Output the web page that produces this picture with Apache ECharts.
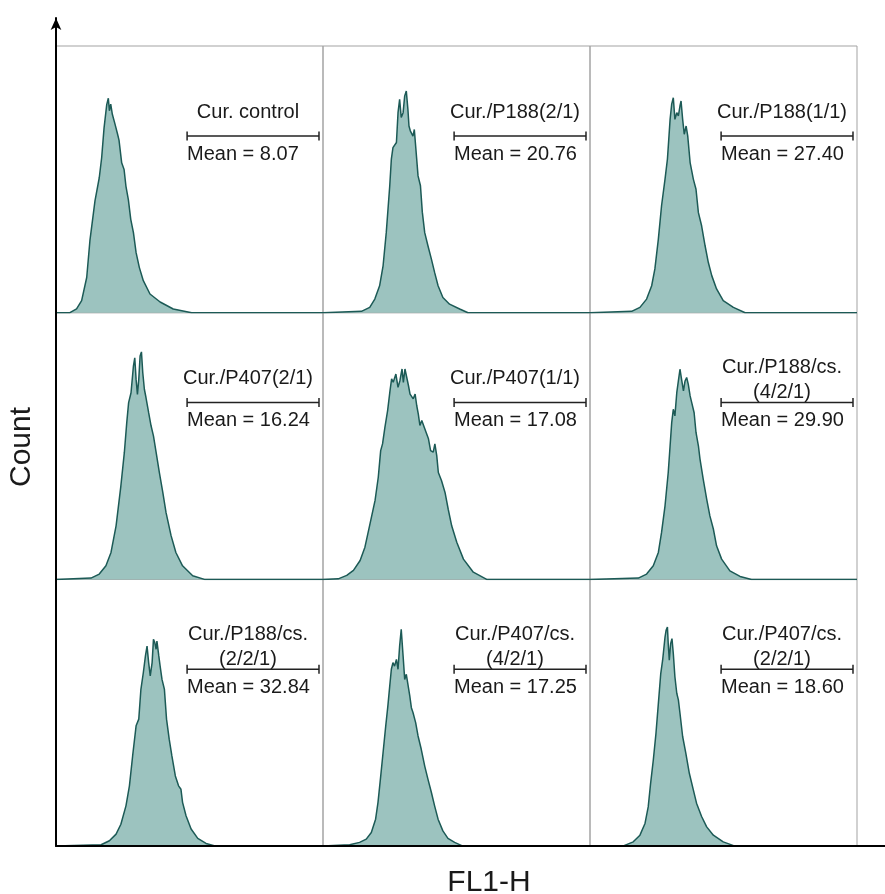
<!DOCTYPE html>
<html>
<head>
<meta charset="utf-8">
<script src="https://cdn.jsdelivr.net/npm/echarts@6/dist/echarts.min.js"></script>
<style>
  html, body { margin: 0; padding: 0; background: #fff; }
  #main { width: 885px; height: 894px; }
</style>
</head>
<body>
<div id="main"></div>
<script>
// histogram traces, [FL1-H position, count] in panel units (0-100)
const curControl = [[0,0],[5.2,0],[7.7,1.4],[9.6,4.5],[11.5,13.2],[12.7,27],[14.6,41.9],[16.2,50.6],[17.1,58.1],[18.0,69.3],[19.0,78.0],[19.6,80.4],[20.0,75.7],[20.5,78.2],[21.1,74.4],[21.5,73.8],[22.1,70.7],[23.0,67.2],[23.6,64.7],[24.6,56.2],[25.5,53.7],[26.2,47.4],[27.1,42.4],[28.0,35.0],[29.0,30.0],[30.0,22.5],[31.2,17.0],[32.7,12.0],[35.2,7.0],[39.0,4.0],[43.9,1.4],[50.8,0],[100,0]]
const p188_21 = [[0,0],[14.4,0.5],[17.5,2.0],[19.4,5.1],[21.2,10.1],[22.5,17.6],[23.7,30.1],[25.0,47.6],[25.6,57.6],[26.2,61.9],[26.8,61.3],[27.5,63.8],[28.1,75.0],[28.7,80.0],[29.3,73.2],[30.0,75.0],[30.6,81.3],[31.2,83.1],[31.8,76.3],[32.2,70.0],[32.7,68.2],[33.2,68.7],[33.7,66.2],[34.2,68.7],[34.7,62.5],[35.6,51.3],[36.5,47.6],[37.2,37.7],[38.1,30.0],[39.3,25.1],[40.6,20.1],[41.8,15.1],[43.1,10.1],[44.9,5.7],[47.4,3.2],[51.2,1.4],[54.3,0],[100,0]]
const p188_11 = [[0,0],[15.6,0.5],[18.7,2.0],[21.2,5.1],[23.1,10.1],[24.3,16.4],[25.6,27.6],[26.8,40.1],[28.1,50.1],[29.0,57.6],[29.5,65.0],[30.0,72.5],[30.6,78.2],[31.2,80.6],[31.8,72.5],[32.5,75.0],[33.1,73.8],[33.7,77.5],[34.1,79.4],[34.7,72.5],[35.3,66.9],[36.0,70.0],[36.6,66.3],[37.5,56.3],[38.7,50.1],[39.7,46.3],[40.6,37.5],[41.8,32.6],[43.1,25.1],[44.3,18.9],[45.6,13.9],[47.4,8.9],[49.9,4.5],[53.7,2.0],[58.1,0],[100,0]]
const p407_21 = [[0,0],[13.1,0.5],[16.2,2.0],[18.7,5.1],[20.6,10.1],[22.5,20.1],[24.3,35.1],[25.6,47.6],[26.5,58.8],[27.2,66.3],[28.1,70.0],[29.0,80.0],[29.5,83.1],[30.0,75.0],[30.5,69.4],[31.0,75.0],[31.5,83.8],[32.0,85.3],[32.5,77.5],[33.1,71.3],[33.7,68.2],[34.7,62.5],[35.6,57.6],[36.5,53.8],[37.5,47.6],[38.7,40.1],[40.0,32.6],[41.2,25.1],[43.1,16.4],[44.9,10.1],[47.4,5.1],[51.2,1.4],[55.6,0],[100,0]]
const p407_11 = [[0,0],[5.7,0.2],[8.9,1.5],[11.4,3.4],[13.9,7.1],[15.7,12.1],[17.6,20.8],[19.5,29.6],[20.7,38.3],[21.6,48.3],[22.3,50.8],[23.2,57.1],[24.2,63.3],[25.1,70.8],[25.7,75.2],[26.3,73.9],[27.3,77.0],[28.1,72.0],[28.8,74.5],[29.6,78.9],[30.1,73.9],[30.7,78.9],[31.3,78.9],[32.0,72.7],[32.6,69.5],[33.2,70.2],[33.8,67.7],[34.5,69.5],[35.1,65.2],[35.7,62.0],[36.3,57.7],[37.0,59.6],[37.6,59.0],[38.6,55.2],[39.5,52.7],[40.3,48.3],[41.3,47.7],[41.9,50.8],[42.6,46.4],[43.2,40.1],[44.4,37.0],[45.7,32.6],[46.9,26.3],[48.2,20.1],[50.1,13.9],[52.6,7.6],[56.3,2.7],[61.3,0],[100,0]]
const p188cs_421 = [[0,0],[18.1,0.5],[21.2,2.0],[23.7,5.1],[25.6,10.1],[26.8,17.6],[28.1,27.6],[29.3,40.1],[30.0,50.1],[30.6,58.8],[31.2,63.8],[31.8,61.3],[32.5,70.0],[33.1,74.4],[33.7,78.8],[34.3,75.0],[35.0,70.7],[35.6,74.4],[36.2,75.7],[36.8,73.2],[37.5,68.8],[38.1,66.3],[39.0,62.5],[39.7,55.1],[40.6,50.1],[41.2,45.1],[42.4,37.6],[43.7,30.1],[44.9,23.8],[46.2,18.9],[47.4,12.6],[49.3,7.6],[52.4,3.2],[56.2,1.1],[60.5,0],[100,0]]
const p188cs_221 = [[0,0],[16.9,0.5],[20.0,2.0],[22.5,4.5],[24.3,8.2],[26.2,15.1],[27.5,22.6],[28.7,33.8],[30.0,45.1],[31.0,47.6],[31.8,58.8],[32.7,65.0],[33.5,71.3],[34.1,75.0],[34.7,68.8],[35.3,63.8],[36.0,68.8],[36.5,77.5],[37.0,76.3],[37.5,73.8],[37.8,76.9],[38.5,71.3],[39.0,67.5],[39.7,62.5],[40.6,58.8],[41.4,47.6],[42.4,40.1],[43.4,33.8],[44.7,26.3],[45.9,22.6],[46.8,21.3],[47.4,16.4],[48.7,11.4],[50.6,6.4],[53.1,2.9],[56.2,1.0],[59.9,0],[100,0]]
const p407cs_421 = [[0,0],[10.0,0.5],[13.7,1.4],[16.2,2.6],[18.1,5.1],[19.7,10.1],[20.6,16.4],[21.5,25.1],[22.5,35.1],[23.5,45.1],[24.3,52.6],[25.0,60.1],[25.6,66.3],[26.2,68.8],[26.8,67.5],[27.5,70.0],[28.1,66.3],[28.7,75.0],[29.3,81.3],[30.0,71.3],[30.6,62.5],[31.2,64.4],[31.8,63.8],[32.5,56.3],[33.1,51.9],[33.7,50.1],[34.7,46.3],[35.6,41.3],[36.8,36.3],[38.1,30.0],[39.3,25.1],[40.6,20.1],[41.8,15.1],[43.1,10.1],[44.9,5.7],[46.8,2.9],[49.3,1.4],[52.4,0],[100,0]]
const p407cs_221 = [[0,0],[12.5,0.1],[16.2,1.6],[18.7,4.1],[20.6,8.5],[21.8,14.7],[22.7,23.5],[23.7,32.2],[24.7,42.2],[25.6,53.4],[26.5,64.7],[27.2,69.7],[28.1,78.4],[28.5,80.9],[29.0,82.1],[29.3,75.9],[29.7,69.7],[30.2,75.9],[30.7,77.8],[31.2,72.2],[31.8,63.5],[32.5,57.3],[33.1,54.8],[33.7,49.8],[34.7,41.1],[35.9,34.8],[37.2,27.3],[38.7,21.1],[39.9,16.1],[41.8,11.1],[43.7,7.2],[46.2,4.1],[49.9,1.6],[54.3,0],[100,0]]

const histograms = [curControl, p188_21, p188_11, p407_21, p407_11, p188cs_421, p188cs_221, p407cs_421, p407cs_221]
const sampleNames = [
  ['Cur. control'], ['Cur./P188(2/1)'], ['Cur./P188(1/1)'],
  ['Cur./P407(2/1)'], ['Cur./P407(1/1)'], ['Cur./P188/cs.', '(4/2/1)'],
  ['Cur./P188/cs.', '(2/2/1)'], ['Cur./P407/cs.', '(4/2/1)'], ['Cur./P407/cs.', '(2/2/1)']
]
const meanValues = ['8.07', '20.76', '27.40', '16.24', '17.08', '29.90', '32.84', '17.25', '18.60']
const gateRange = [49.1, 98.5] // marker bar, panel units
const gateLevel = 66.3

const chart = echarts.init(document.getElementById('main'))

// panel layout
const panelLeft = 56, panelTop = 46, panelW = 267, panelH = 266.7
const fillColor = '#9cc3bf'
const strokeColor = '#1c5a56'
const font = '"Liberation Sans", Arial, sans-serif'

const grids = [], xAxes = [], yAxes = [], series = [], graphics = []

histograms.forEach((data, i) => {
  const col = i % 3, row = Math.floor(i / 3)
  const left = panelLeft + col * panelW
  const top = panelTop + row * panelH
  grids.push({
    left: left, top: top, width: panelW, height: panelH,
    show: true, borderColor: '#a3a3a3', borderWidth: 1, backgroundColor: 'transparent'
  })
  xAxes.push({ type: 'value', gridIndex: i, min: 0, max: 100, show: false })
  yAxes.push({ type: 'value', gridIndex: i, min: 0, max: 100, show: false })
  series.push({
    type: 'line', xAxisIndex: i, yAxisIndex: i, data: data,
    symbol: 'none', silent: true,
    lineStyle: { color: strokeColor, width: 1.5 },
    areaStyle: { color: fillColor, opacity: 1 }
  })
  // gate marker bar
  series.push({
    type: 'line', xAxisIndex: i, yAxisIndex: i,
    data: [[gateRange[0], gateLevel], [gateRange[1], gateLevel]],
    symbol: 'rect', symbolSize: [1.5, 9], silent: true,
    lineStyle: { color: '#222', width: 1.5 },
    itemStyle: { color: '#222' }
  })

  const names = sampleNames[i]
  const cx = left + 192
  if (names.length === 1) {
    graphics.push({ type: 'text', x: cx, y: top + 66,
      style: { text: names[0], font: '20px ' + font, fill: '#1a1a1a', align: 'center', verticalAlign: 'middle' } })
  } else {
    graphics.push({ type: 'text', x: cx, y: top + 55,
      style: { text: names[0], font: '20px ' + font, fill: '#1a1a1a', align: 'center', verticalAlign: 'middle' } })
    graphics.push({ type: 'text', x: cx, y: top + 80,
      style: { text: names[1], font: '20px ' + font, fill: '#1a1a1a', align: 'center', verticalAlign: 'middle' } })
  }
  graphics.push({ type: 'text', x: left + 131, y: top + 108,
    style: { text: 'Mean = ' + meanValues[i], font: '20px ' + font, fill: '#1a1a1a', align: 'left', verticalAlign: 'middle' } })
})

// outer frame axes
const outer = grids.length
grids.push({ left: 56, top: 18, right: 0, bottom: 48 })
xAxes.push({
  type: 'value', gridIndex: outer, min: 0, max: 1, z: 10,
  axisLine: { show: true, onZero: false, lineStyle: { color: '#000', width: 2 } },
  axisTick: { show: false }, axisLabel: { show: false }, splitLine: { show: false }
})
yAxes.push({
  type: 'value', gridIndex: outer, min: 0, max: 1, z: 10,
  axisLine: { show: true, onZero: false, symbol: ['none', 'arrow'], symbolSize: [8, 12],
    lineStyle: { color: '#000', width: 2 } },
  axisTick: { show: false }, axisLabel: { show: false }, splitLine: { show: false }
})

graphics.push({ type: 'text', x: 22, y: 447, rotation: Math.PI / 2,
  style: { text: 'Count', font: '30px ' + font, fill: '#1a1a1a', align: 'center', verticalAlign: 'middle' } })
graphics.push({ type: 'text', x: 489, y: 883,
  style: { text: 'FL1-H', font: '30px ' + font, fill: '#1a1a1a', align: 'center', verticalAlign: 'middle' } })

chart.setOption({
  animation: false,
  backgroundColor: '#fff',
  grid: grids,
  xAxis: xAxes,
  yAxis: yAxes,
  series: series,
  graphic: graphics
})
</script>
</body>
</html>
